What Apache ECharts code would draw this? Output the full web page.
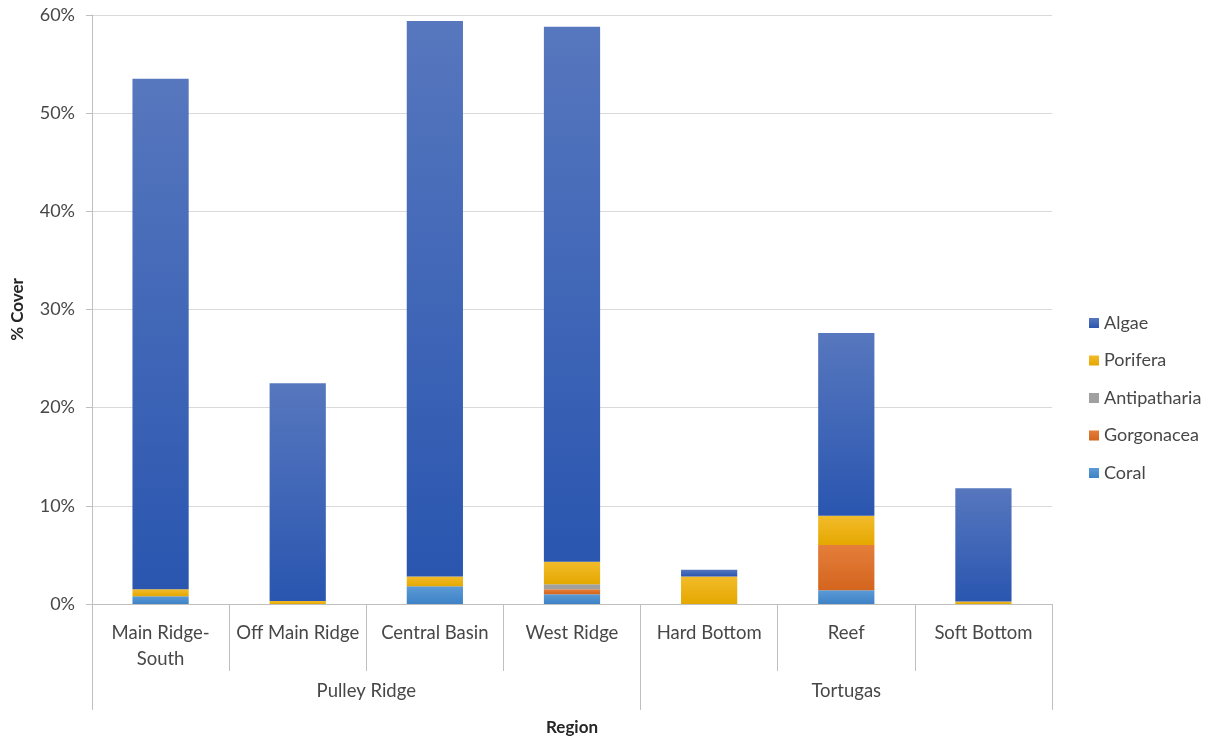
<!DOCTYPE html>
<html>
<head>
<meta charset="utf-8">
<script src="https://cdn.jsdelivr.net/npm/echarts@6/dist/echarts.min.js"></script>
<style>html,body{margin:0;padding:0;background:#fff}#c{width:1217px;height:738px}</style>
</head>
<body>
<div id="c"></div>
<script>
const categories = ['Main Ridge-\nSouth', 'Off Main Ridge', 'Central Basin', 'West Ridge', 'Hard Bottom', 'Reef', 'Soft Bottom'];
const groups = ['Pulley Ridge', 'Tortugas'];
const groupSizes = [4, 3];
const yTicks = [0, 10, 20, 30, 40, 50, 60];

const coral       = [0.8, 0.0, 1.8, 1.0, 0.0, 1.4, 0.0];
const gorgonacea  = [0.0, 0.0, 0.0, 0.5, 0.0, 4.6, 0.0];
const antipatharia= [0.0, 0.0, 0.0, 0.5, 0.0, 0.0, 0.0];
const porifera    = [0.7, 0.3, 1.0, 2.3, 2.8, 3.0, 0.25];
const algae       = [52.0, 22.2, 56.6, 54.5, 0.7, 18.6, 11.55];

// group boundaries & centres derived from group sizes
const bounds = [0];
groupSizes.forEach(s => bounds.push(bounds[bounds.length - 1] + s));
const centers = groups.map((g, i) => (bounds[i] + bounds[i + 1]) / 2);

const font = 'Lato, "Open Sans", sans-serif';
const textColor = '#474747';
const grad = (a, b) => new echarts.graphic.LinearGradient(0, 0, 0, 1, [{offset: 0, color: a}, {offset: 1, color: b}]);

const mk = (name, data, color) => ({
  name, type: 'bar', stack: 'total', data, barWidth: '41%',
  itemStyle: {color}, emphasis: {disabled: true}
});

const chart = echarts.init(document.getElementById('c'));
chart.setOption({
  animation: false,
  textStyle: {fontFamily: font},
  grid: {left: 92, right: 165, top: 15, bottom: 134, containLabel: false, outerBoundsMode: 'none'},
  legend: {
    orient: 'vertical', left: 1084, top: 309, itemWidth: 10, itemHeight: 10, itemGap: 19.5,
    data: ['Algae', 'Porifera', 'Antipatharia', 'Gorgonacea', 'Coral'],
    textStyle: {fontSize: 18, color: textColor, fontFamily: font},
    icon: 'rect'
  },
  xAxis: [{
    type: 'category', data: categories, position: 'bottom',
    axisLine: {lineStyle: {color: '#BFBFBF', width: 1}},
    axisTick: {show: true, interval: 0, length: 67, lineStyle: {color: '#BFBFBF'}},
    axisLabel: {interval: 0, margin: 16, fontSize: 18.5, lineHeight: 26, color: textColor, fontFamily: font},
    name: 'Region', nameLocation: 'middle', nameGap: 115,
    nameTextStyle: {fontSize: 17, fontWeight: 'bold', color: '#262626', fontFamily: font}
  }, {
    type: 'value', min: 0, max: categories.length, position: 'bottom',
    axisLine: {show: false}, splitLine: {show: false},
    axisTick: {show: true, customValues: bounds, length: 106, lineStyle: {color: '#BFBFBF'}},
    axisLabel: {
      customValues: centers, margin: 78, fontSize: 18.5, color: textColor, fontFamily: font,
      formatter: v => { const i = centers.indexOf(v); return i >= 0 ? groups[i] : ''; }
    }
  }],
  yAxis: {
    type: 'value', min: 0, max: 60, interval: 10,
    axisLine: {show: true, lineStyle: {color: '#BFBFBF'}},
    axisTick: {show: true, length: 6, lineStyle: {color: '#BFBFBF'}},
    splitLine: {lineStyle: {color: '#D9D9D9'}},
    axisLabel: {
      customValues: yTicks, formatter: '{value}%', fontSize: 18, color: textColor, margin: 17, fontFamily: font
    },
    name: '% Cover', nameLocation: 'middle', nameRotate: 90, nameGap: 66,
    nameTextStyle: {fontSize: 17, fontWeight: 'bold', color: '#262626', fontFamily: font}
  },
  series: [
    mk('Coral', coral, grad('#5B9AD6', '#3E82C6')),
    mk('Gorgonacea', gorgonacea, grad('#E47E3A', '#D4651E')),
    mk('Antipatharia', antipatharia, '#A0A0A0'),
    mk('Porifera', porifera, grad('#F2BB2A', '#E5A800')),
    mk('Algae', algae, grad('#5777BE', '#2A56B0'))
  ]
});
</script>
</body>
</html>
